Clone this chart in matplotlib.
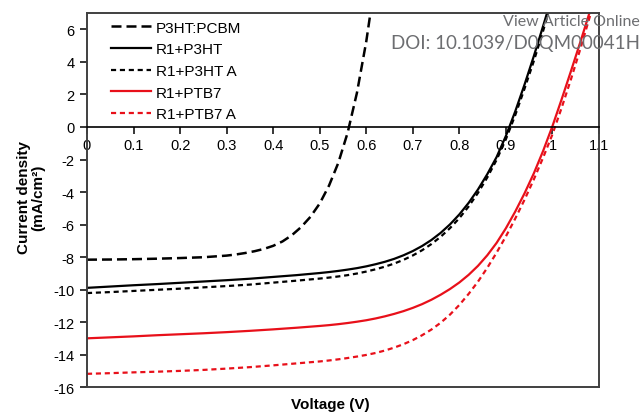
import matplotlib
matplotlib.use("Agg")
import matplotlib.pyplot as plt
from matplotlib.ticker import FuncFormatter

plt.rcParams["font.family"] = ["Liberation Sans", "DejaVu Sans"]
plt.rcParams["axes.unicode_minus"] = False

# J-V curves: voltage (V) and current density (mA/cm2)
v_p3ht_pcbm = [0, 0.05, 0.1, 0.15, 0.2, 0.25, 0.3, 0.32, 0.34, 0.36, 0.38, 0.4, 0.42,
               0.44, 0.46, 0.48, 0.5, 0.52, 0.54, 0.56, 0.58, 0.6, 0.61]
j_p3ht_pcbm = [-8.15, -8.14, -8.12, -8.09, -8.05, -8.0, -7.9, -7.83, -7.74, -7.63, -7.49, -7.3, -7.03,
               -6.65, -6.15, -5.52, -4.7, -3.6, -2.2, -0.35, 2.1, 5.25, 7.2]

v_r1_p3ht = [0, 0.05, 0.1, 0.15, 0.2, 0.25, 0.3, 0.35, 0.4, 0.45, 0.5, 0.52, 0.54, 0.56, 0.58,
             0.6, 0.62, 0.64, 0.66, 0.68, 0.7, 0.72, 0.74, 0.76, 0.78, 0.8, 0.82, 0.84, 0.86,
             0.88, 0.9, 0.92, 0.94, 0.96, 0.98, 1.0]
j_r1_p3ht = [-9.88, -9.8, -9.72, -9.65, -9.57, -9.49, -9.41, -9.32, -9.21, -9.1, -8.97, -8.91,
             -8.84, -8.76, -8.67, -8.56, -8.43, -8.28, -8.1, -7.88, -7.62, -7.31, -6.94, -6.5,
             -5.98, -5.37, -4.66, -3.84, -2.9, -1.85, -0.55, 0.95, 2.6, 4.35, 6.2, 8.1]

v_r1_p3ht_a = [0, 0.05, 0.1, 0.15, 0.2, 0.25, 0.3, 0.35, 0.4, 0.45, 0.5, 0.52, 0.54, 0.56, 0.58,
               0.6, 0.62, 0.64, 0.66, 0.68, 0.7, 0.72, 0.74, 0.76, 0.78, 0.8, 0.82, 0.84, 0.86,
               0.88, 0.9, 0.92, 0.94, 0.96, 0.98, 1.0]
j_r1_p3ht_a = [-10.2, -10.14, -10.07, -10.0, -9.93, -9.85, -9.77, -9.68, -9.56, -9.44, -9.31, -9.25,
               -9.18, -9.1, -9.0, -8.88, -8.74, -8.58, -8.39, -8.16, -7.89, -7.57, -7.19, -6.74,
               -6.21, -5.6, -4.88, -4.05, -3.1, -2.02, -0.75, 0.72, 2.35, 4.05, 5.9, 7.9]

v_r1_ptb7 = [0, 0.05, 0.1, 0.15, 0.2, 0.25, 0.3, 0.35, 0.4, 0.45, 0.5, 0.52, 0.54, 0.56, 0.58,
             0.6, 0.62, 0.64, 0.66, 0.68, 0.7, 0.72, 0.74, 0.76, 0.78, 0.8, 0.82, 0.84, 0.86,
             0.88, 0.9, 0.92, 0.94, 0.96, 0.98, 1.0, 1.02, 1.04, 1.06, 1.08]
j_r1_ptb7 = [-12.98, -12.92, -12.86, -12.79, -12.73, -12.67, -12.6, -12.52, -12.43, -12.33, -12.22,
             -12.17, -12.11, -12.04, -11.96, -11.87, -11.76, -11.63, -11.48, -11.31, -11.11,
             -10.88, -10.61, -10.3, -9.95, -9.55, -9.08, -8.53, -7.88, -7.12, -6.22, -5.2, -4.08,
             -2.85, -1.47, 0.05, 1.72, 3.45, 5.22, 7.05]

v_r1_ptb7_a = [0, 0.05, 0.1, 0.15, 0.2, 0.25, 0.3, 0.35, 0.4, 0.45, 0.5, 0.52, 0.54, 0.56, 0.58,
               0.6, 0.62, 0.64, 0.66, 0.68, 0.7, 0.72, 0.74, 0.76, 0.78, 0.8, 0.82, 0.84, 0.86,
               0.88, 0.9, 0.92, 0.94, 0.96, 0.98, 1.0, 1.02, 1.04, 1.06, 1.08, 1.1]
j_r1_ptb7_a = [-15.16, -15.12, -15.07, -15.03, -14.98, -14.92, -14.84, -14.75, -14.64, -14.52,
               -14.4, -14.34, -14.27, -14.19, -14.1, -14.0, -13.88, -13.73, -13.55, -13.34, -13.09,
               -12.79, -12.44, -12.02, -11.52, -10.93, -10.25, -9.5, -8.65, -7.72, -6.72, -5.63,
               -4.47, -3.22, -1.88, -0.45, 1.2, 2.95, 4.8, 6.75, 8.8]

x_ticks = [0, 0.1, 0.2, 0.3, 0.4, 0.5, 0.6, 0.7, 0.8, 0.9, 1.0, 1.1]
y_ticks = [-16, -14, -12, -10, -8, -6, -4, -2, 0, 2, 4, 6]

fig = plt.figure(figsize=(6.42, 4.14), dpi=100)
ax = fig.add_axes([0.1355, 0.0616, 0.7975, 0.9046])

ax.plot(v_p3ht_pcbm, j_p3ht_pcbm, color="black", lw=1.8, dashes=(4, 2), label="P3HT:PCBM")
ax.plot(v_r1_p3ht, j_r1_p3ht, color="black", lw=1.6, label="R1+P3HT")
ax.plot(v_r1_p3ht_a, j_r1_p3ht_a, color="black", lw=1.6, dashes=(2.3, 1.7), label="R1+P3HT A")
ax.plot(v_r1_ptb7, j_r1_ptb7, color="#e8101a", lw=1.6, label="R1+PTB7")
ax.plot(v_r1_ptb7_a, j_r1_ptb7_a, color="#e8101a", lw=1.6, dashes=(2.3, 1.7), label="R1+PTB7 A")

ax.set_xlim(0, 1.1)
ax.set_ylim(-16, 7)
ax.set_xticks(x_ticks)
ax.set_yticks(y_ticks)
ax.xaxis.set_major_formatter(FuncFormatter(lambda v, p: f"{v:g}"))
ax.tick_params(axis="both", direction="out", length=5, width=1.1, labelsize=10.5, colors="black")
ax.tick_params(axis="x", pad=3)
ax.tick_params(axis="y", pad=4)

# x axis sits on J = 0, the frame still closes at the bottom
for s in ax.spines.values():
    s.set_color("#404040")
    s.set_linewidth(1.4)
ax.spines["bottom"].set_position(("data", 0))
ax.spines["bottom"].set_color("black")
ax.spines["bottom"].set_linewidth(1.2)
ax.plot([0, 1], [0, 0], transform=ax.transAxes, color="#404040", lw=1.4, clip_on=False)

ax.set_ylabel("Current density\n(mA/cm²)", fontsize=11, fontweight="bold", linespacing=1.0)
ax.yaxis.set_label_coords(-0.082, 0.51)
ax.text(0.475, -0.044, "Voltage (V)", transform=ax.transAxes, ha="center", va="center",
        fontsize=11, fontweight="bold")

ax.legend(loc="upper left", bbox_to_anchor=(0.032, 1.0), frameon=False, fontsize=11,
          handlelength=2.6, handletextpad=0.35, labelspacing=0.5, borderpad=0.0)

fig.text(0.997, 0.946, "View Article Online", ha="right", va="center", color="#6d6e71",
         fontsize=11.5, family=["Lato", "DejaVu Sans"], zorder=10)
fig.text(0.997, 0.895, "DOI: 10.1039/D0QM00041H", ha="right", va="center", color="#6d6e71",
         fontsize=13.5, family=["Lato", "DejaVu Sans"], zorder=10)

fig.savefig("out.png", dpi=100)
